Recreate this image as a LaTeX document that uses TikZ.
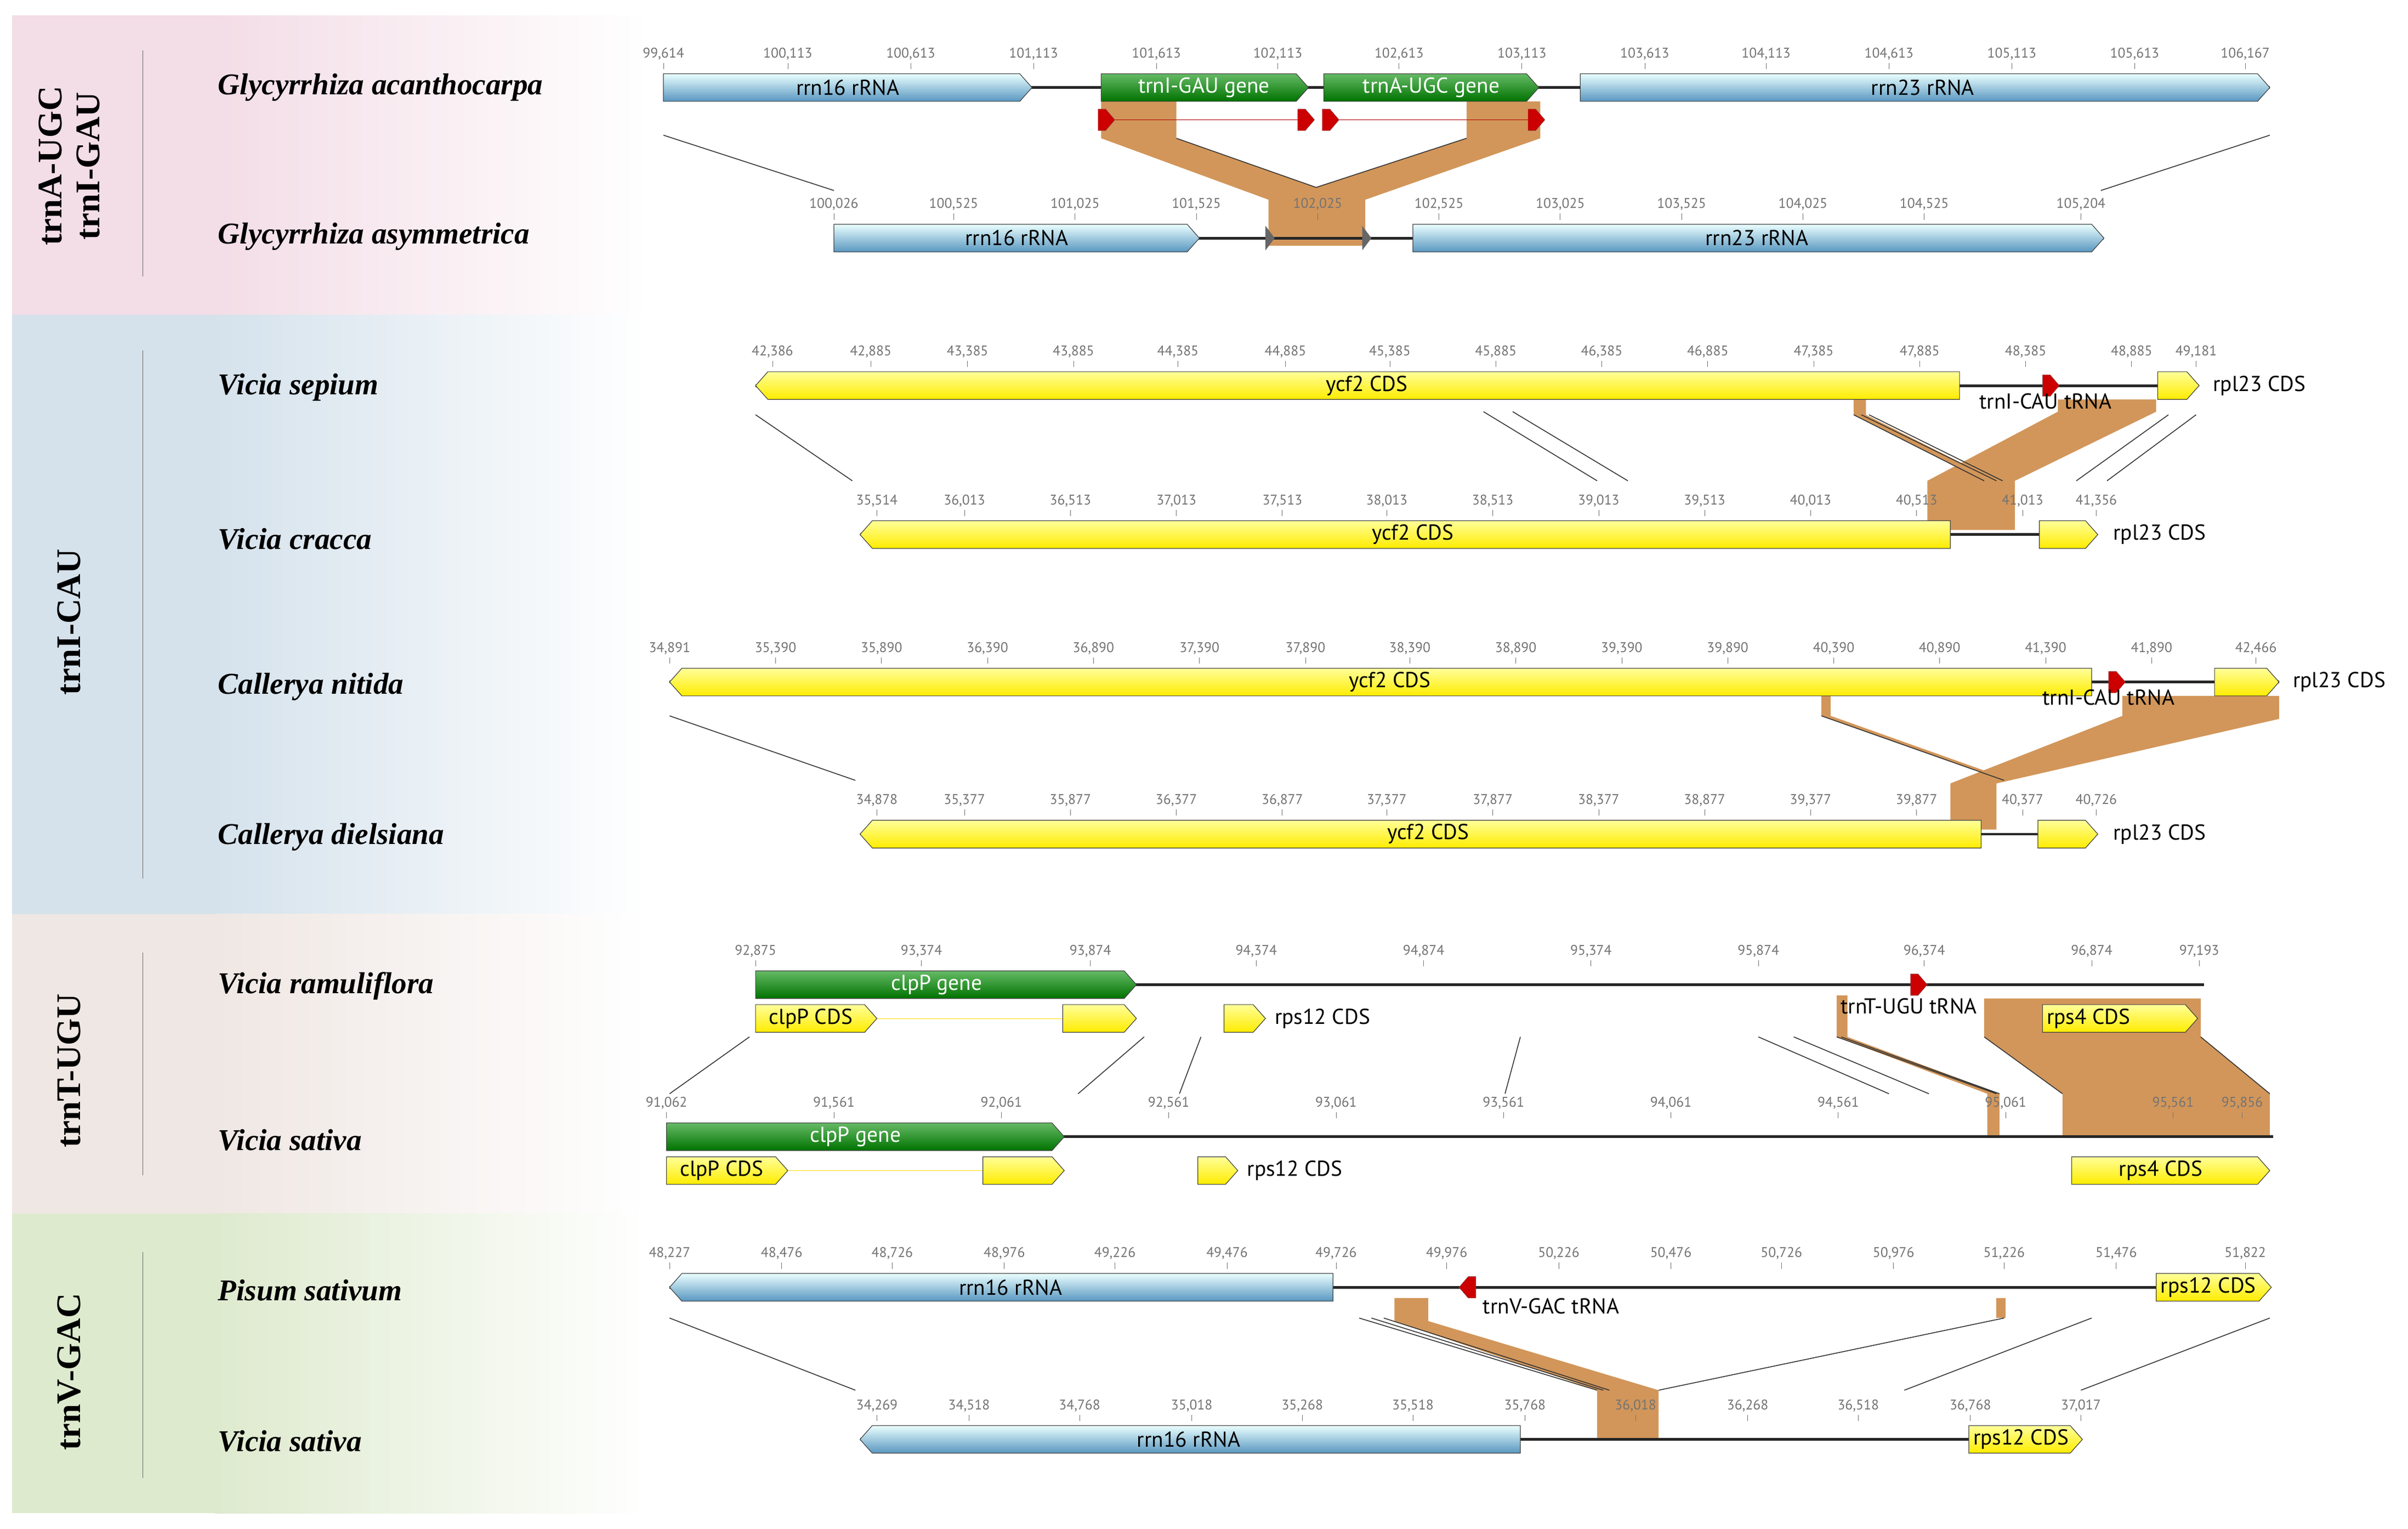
\documentclass[tikz,border=0pt]{standalone}
\usepackage{fontspec}
\setmainfont{Liberation Serif}
\newfontfamily\gs{PT Sans}
\begin{document}
\begin{tikzpicture}[x=0.1cm,y=-0.1cm,
 tl/.style={font=\gs\fontsize{26}{27}\selectfont,text=black!55,inner sep=0},
 gl/.style={font=\gs\fontsize{40}{42}\selectfont,inner sep=0},
 sp/.style={font=\bfseries\itshape\fontsize{56}{60}\selectfont,anchor=west,inner sep=0},
 grp/.style={font=\bfseries\fontsize{64}{70}\selectfont,rotate=90,align=center,inner sep=0},
 blue/.style={top color=cyan!8!white,bottom color=blue!40!cyan!45!gray!90,draw=black!75,line width=1.2pt},
 yel/.style={top color=yellow!40,bottom color=yellow!85!orange,draw=black!75,line width=1.2pt},
 grn/.style={top color=green!55!black!60!white,bottom color=green!45!black,draw=black!75,line width=1.2pt},
 bb/.style={line width=5pt,draw=black!85},
 cl/.style={line width=1.6pt,draw=black!80},
]
\definecolor{bandc}{RGB}{210,150,90}
\useasboundingbox (0,0) rectangle (1568,995);
\fill[white] (0,0) rectangle (1568,995);
% backgrounds
\def\bg#1#2#3{\fill[#1] (8,#2) rectangle (140,#3); \shade[left color=#1,right color=white] (140,#2) rectangle (422,#3);}
\definecolor{c1}{RGB}{243,221,230}\definecolor{c2}{RGB}{213,226,236}
\definecolor{c3}{RGB}{239,231,227}\definecolor{c4}{RGB}{222,234,206}
\bg{c1}{10}{205}\bg{c2}{205}{595}\bg{c3}{595}{790}\bg{c4}{790}{985}
\node[grp] (G1) at (45,108) {trnA-UGC\\trnI-GAU};
\node[grp] (G2) at (45,405) {trnI-CAU};
\node[grp] (G3) at (45,697) {trnT-UGU};
\node[grp] (G4) at (45,893) {trnV-GAC};
\foreach \a/\b in {33/180,228/572,620/765,815/962} \draw[black!60,line width=1pt] (93,\a)--(93,\b);
\node[sp] (s1) at (142,57) {Glycyrrhiza acanthocarpa};
\node[sp] (s2) at (142,154) {Glycyrrhiza asymmetrica};
\node[sp] (s3) at (142,252) {Vicia sepium};
\node[sp] (s4) at (142,351) {Vicia cracca};
\node[sp] (s5) at (142,447) {Callerya nitida};
\node[sp] (s6) at (142,545) {Callerya dielsiana};
\node[sp] (s7) at (142,642) {Vicia ramuliflora};
\node[sp] (s8) at (142,742) {Vicia sativa};
\node[sp] (s9) at (142,840) {Pisum sativum};
\node[sp] (s10) at (142,938) {Vicia sativa};
% macros
\newcommand\gf[4]{\path[#4] (#1,#3-9)--(#2-8,#3-9)--(#2,#3)--(#2-8,#3+9)--(#1,#3+9)--cycle;}
\newcommand\gr[4]{\path[#4] (#2,#3-9)--(#1+8,#3-9)--(#1,#3)--(#1+8,#3+9)--(#2,#3+9)--cycle;}
\newcommand\redr[2]{\path[fill=red!80!black,draw=black!60] (#1-5,#2-7)--(#1,#2-7)--(#1+6,#2)--(#1,#2+7)--(#1-5,#2+7)--cycle;}
\newcommand\redl[2]{\path[fill=red!80!black,draw=black!60] (#1+5,#2-7)--(#1,#2-7)--(#1-6,#2)--(#1,#2+7)--(#1+5,#2+7)--cycle;}
\newcommand\ticks[2]{\foreach \x/\t in {#2}{\draw[black!55,line width=0.8pt] (\x,#1-16)--(\x,#1-12); \node[tl,anchor=south] at (\x,#1-18) {\t};}}
% ===== bands =====
\path[fill=bandc] (717,66)--(766,66)--(766,90)--(857,122)--(955,90)--(955,66)--(1003,66)--(1003,90)--(889,130)--(889,160)--(826,160)--(826,130)--(717,90)--cycle;
\draw[cl] (766,90)--(857,122)--(955,90);
\path[fill=bandc] (1340,260)--(1404,260)--(1404,268)--(1312,313)--(1312,345)--(1255,345)--(1255,313)--(1340,268)--cycle;
\path[fill=bandc] (1207,260)--(1215,260)--(1215,270)--(1300,313)--(1292,313)--(1207,270)--cycle;
\draw[cl] (1207,270)--(1292,313) (1212,270)--(1300,313) (1217,270)--(1304,313);
\path[fill=bandc] (1382,453)--(1484,453)--(1484,468)--(1300,510)--(1300,540)--(1270,540)--(1270,510)--(1382,466)--cycle;
\path[fill=bandc] (1186,453)--(1192,453)--(1192,466)--(1310,508)--(1305,508)--(1186,466)--cycle;
\draw[cl] (1186,466)--(1305,508);
\path[fill=bandc] (1292,650)--(1433,650)--(1433,675)--(1478,712)--(1478,740)--(1343,740)--(1343,712)--(1292,675)--cycle;
\draw[cl] (1292,675)--(1343,712) (1433,675)--(1478,712);
\path[fill=bandc] (1196,648)--(1203,648)--(1203,675)--(1302,712)--(1302,740)--(1294,740)--(1294,712)--(1196,675)--cycle;
\draw[cl] (1196,675)--(1300,712) (1199,675)--(1302,712);
\path[fill=bandc] (908,845)--(930,845)--(930,860)--(1080,905)--(1080,937)--(1040,937)--(1040,905)--(908,860)--cycle;
\path[fill=bandc] (1300,845)--(1306,845)--(1306,858)--(1300,858)--cycle;
\draw[cl] (885,858)--(1040,905) (893,858)--(1044,905) (901,858)--(1048,905) (1305,858)--(1080,905);
% ===== gray lines =====
\draw[cl] (432,88)--(543,124) (1478,88)--(1368,124);
\draw[cl] (492,270)--(555,313) (966,268)--(1040,313) (985,268)--(1060,313) (1430,270)--(1372,313) (1412,270)--(1352,313);
\draw[cl] (436,466)--(557,508);
\draw[cl] (488,675)--(436,712) (745,675)--(702,712) (782,675)--(768,712) (990,675)--(980,712) (1145,675)--(1230,712) (1168,675)--(1256,712);
\draw[cl] (436,858)--(557,905) (1362,858)--(1240,905) (1478,858)--(1355,905);
% ===== Row 1 =====
\ticks{57}{432/99{,}614,513/100{,}113,593/100{,}613,673/101{,}113,753/101{,}613,832/102{,}113,911/102{,}613,991/103{,}113,1071/103{,}613,1150/104{,}113,1230/104{,}613,1310/105{,}113,1390/105{,}613,1462/106{,}167}
\draw[bb] (432,57)--(1478,57);
\gf{432}{672}{57}{blue}\node[gl] (r1a) at (552,57) {rrn16 rRNA};
\gf{717}{852}{57}{grn}\node[gl,text=white] (r1b) at (784,57) {trnI-GAU gene};
\gf{862}{1002}{57}{grn}\node[gl,text=white] (r1c) at (932,57) {trnA-UGC gene};
\gf{1029}{1478}{57}{blue}\node[gl] (r1d) at (1252,57) {rrn23 rRNA};
\draw[red!70!black,line width=1pt] (720,78)--(850,78) (866,78)--(1000,78);
\redr{720}{78}\redr{850}{78}\redr{866}{78}\redr{1000}{78}
% ===== Row 2 =====
\ticks{155}{543/100{,}026,621/100{,}525,700/101{,}025,779/101{,}525,858/102{,}025,937/102{,}525,1016/103{,}025,1095/103{,}525,1174/104{,}025,1253/104{,}525,1355/105{,}204}
\draw[bb] (543,155)--(1370,155);
\gf{543}{781}{155}{blue}\node[gl] (r2a) at (662,155) {rrn16 rRNA};
\gf{920}{1370}{155}{blue}\node[gl] (r2b) at (1144,155) {rrn23 rRNA};
\path[fill=black!60] (824,147)--(830,155)--(824,163)--cycle (887,147)--(893,155)--(887,163)--cycle;
% ===== Row 3 =====
\ticks{251}{503/42{,}386,567/42{,}885,630/43{,}385,699/43{,}885,767/44{,}385,837/44{,}885,905/45{,}385,974/45{,}885,1043/46{,}385,1112/46{,}885,1181/47{,}385,1250/47{,}885,1319/48{,}385,1388/48{,}885,1430/49{,}181}
\draw[bb] (492,251)--(1430,251);
\gr{492}{1276}{251}{yel}\node[gl] (r3a) at (890,251) {ycf2 CDS};
\redr{1335}{251}\node[gl,anchor=north] (r3b) at (1332,256) {trnI-CAU tRNA};
\gf{1405}{1432}{251}{yel}\node[gl,anchor=west] (r3c) at (1441,251) {rpl23 CDS};
% ===== Row 4 =====
\ticks{348}{571/35{,}514,628/36{,}013,697/36{,}513,766/37{,}013,835/37{,}513,903/38{,}013,972/38{,}513,1041/39{,}013,1110/39{,}513,1179/40{,}013,1248/40{,}513,1317/41{,}013,1365/41{,}356}
\draw[bb] (560,348)--(1365,348);
\gr{560}{1270}{348}{yel}\node[gl] (r4a) at (920,348) {ycf2 CDS};
\gf{1328}{1366}{348}{yel}\node[gl,anchor=west] (r4b) at (1376,348) {rpl23 CDS};
% ===== Row 5 =====
\ticks{444}{436/34{,}891,505/35{,}390,574/35{,}890,643/36{,}390,712/36{,}890,781/37{,}390,850/37{,}890,918/38{,}390,987/38{,}890,1056/39{,}390,1125/39{,}890,1194/40{,}390,1263/40{,}890,1332/41{,}390,1401/41{,}890,1469/42{,}466}
\draw[bb] (436,444)--(1484,444);
\gr{436}{1362}{444}{yel}\node[gl] (r5a) at (905,444) {ycf2 CDS};
\redr{1378}{444}\node[gl,anchor=north] (r5b) at (1373,449) {trnI-CAU tRNA};
\gf{1442}{1484}{444}{yel}\node[gl,anchor=west] (r5c) at (1493,444) {rpl23 CDS};
% ===== Row 6 =====
\ticks{543}{571/34{,}878,628/35{,}377,697/35{,}877,766/36{,}377,835/36{,}877,903/37{,}377,972/37{,}877,1041/38{,}377,1110/38{,}877,1179/39{,}377,1248/39{,}877,1317/40{,}377,1365/40{,}726}
\draw[bb] (560,543)--(1365,543);
\gr{560}{1290}{543}{yel}\node[gl] (r6a) at (930,543) {ycf2 CDS};
\gf{1327}{1366}{543}{yel}\node[gl,anchor=west] (r6b) at (1376,543) {rpl23 CDS};
% ===== Row 7 =====
\ticks{641}{492/92{,}875,600/93{,}374,710/93{,}874,818/94{,}374,927/94{,}874,1036/95{,}374,1145/95{,}874,1253/96{,}374,1362/96{,}874,1432/97{,}193}
\draw[bb] (492,641)--(1435,641);
\gf{492}{740}{641}{grn}\node[gl,text=white] (r7a) at (610,641) {clpP gene};
\draw[yellow!80!orange,line width=1pt] (570,663)--(692,663);
\gf{492}{571}{663}{yel}\node[gl] (r7b) at (528,663) {clpP CDS};
\gf{692}{740}{663}{yel}
\gf{797}{824}{663}{yel}\node[gl,anchor=west] (r7c) at (830,663) {rps12 CDS};
\redr{1249}{641}\node[gl,anchor=north] (r7d) at (1243,650) {trnT-UGU tRNA};
\gf{1330}{1431}{663}{yel}\node[gl] (r7e) at (1360,663) {rps4 CDS};
% ===== Row 8 =====
\ticks{740}{434/91{,}062,543/91{,}561,652/92{,}061,761/92{,}561,870/93{,}061,979/93{,}561,1088/94{,}061,1197/94{,}561,1306/95{,}061,1415/95{,}561,1460/95{,}856}
\draw[bb] (434,740)--(1480,740);
\gf{434}{693}{740}{grn}\node[gl,text=white] (r8a) at (557,740) {clpP gene};
\draw[yellow!80!orange,line width=1pt] (512,762)--(640,762);
\gf{434}{513}{762}{yel}\node[gl] (r8b) at (470,762) {clpP CDS};
\gf{640}{693}{762}{yel}
\gf{780}{806}{762}{yel}\node[gl,anchor=west] (r8c) at (812,762) {rps12 CDS};
\gf{1349}{1478}{762}{yel}\node[gl] (r8d) at (1407,762) {rps4 CDS};
% ===== Row 9 =====
\ticks{838}{436/48{,}227,509/48{,}476,581/48{,}726,654/48{,}976,726/49{,}226,799/49{,}476,870/49{,}726,942/49{,}976,1015/50{,}226,1088/50{,}476,1160/50{,}726,1233/50{,}976,1305/51{,}226,1378/51{,}476,1462/51{,}822}
\draw[bb] (436,838)--(1478,838);
\gr{436}{868}{838}{blue}\node[gl] (r9a) at (658,838) {rrn16 rRNA};
\redl{956}{838}\node[gl,anchor=north] (r9b) at (1010,845) {trnV-GAC tRNA};
\gf{1404}{1479}{838}{yel}\node[gl] (r9c) at (1438,838) {rps12 CDS};
% ===== Row 10 =====
\ticks{937}{571/34{,}269,631/34{,}518,703/34{,}768,776/35{,}018,848/35{,}268,920/35{,}518,993/35{,}768,1065/36{,}018,1138/36{,}268,1210/36{,}518,1283/36{,}768,1355/37{,}017}
\draw[bb] (560,937)--(1355,937);
\gr{560}{990}{937}{blue}\node[gl] (r10a) at (774,937) {rrn16 rRNA};
\gf{1282}{1356}{937}{yel}\node[gl] (r10b) at (1316,937) {rps12 CDS};
\end{tikzpicture}
\end{document}
